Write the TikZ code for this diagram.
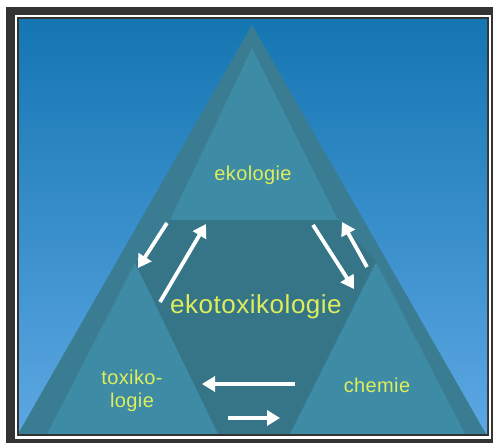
\documentclass[tikz,border=0pt]{standalone}
\usepackage{fontspec}
\setmainfont{Liberation Sans}
\newfontfamily\labfont[LetterSpace=2]{Liberation Sans}
\usetikzlibrary{arrows.meta}
\definecolor{framedark}{HTML}{333333}
\definecolor{bgtop}{HTML}{1576B2}
\definecolor{bgbot}{HTML}{5CA7E3}
\definecolor{band}{HTML}{3A7D93}
\definecolor{innertri}{HTML}{3E8BA6}
\definecolor{middark}{HTML}{357587}
\definecolor{labyellow}{RGB}{222,238,90}
\tikzset{
  lab/.style={text=labyellow, inner sep=0pt, anchor=base},
  biglab/.style={lab, font=\labfont\fontsize{26}{30}\selectfont},
  smalllab/.style={lab, font=\labfont\fontsize{20}{23}\selectfont},
  arr/.style={draw=white, line width=3.8pt, -{Triangle[length=13pt,width=15pt]}}
}
\begin{document}
\begin{tikzpicture}[x=1pt,y=-1pt]
\useasboundingbox (0,0) rectangle (493,443);
% frame
\fill[framedark] (6,7) rectangle (493,443);
\fill[white] (15,15) rectangle (491,439);
\fill[framedark] (17,17) rectangle (489,436);
\shade[top color=bgtop, bottom color=bgbot] (19,20) rectangle (487,434);
\begin{scope}
\clip (19,20) rectangle (487,434);
% outer triangle band
\fill[band] (252,25) -- (18,434) -- (486,434) -- cycle;
% middle region
\fill[middark] (170,220) -- (338,220) -- (376,262) -- (290,434) -- (218,434) -- (135,263) -- cycle;
% inner triangles
\fill[innertri] (252,48) -- (170,220) -- (338,220) -- cycle;
\fill[innertri] (135,263) -- (47,434) -- (218,434) -- cycle;
\fill[innertri] (376,262) -- (290,434) -- (465,434) -- cycle;
\end{scope}
% labels
\node[smalllab] (eko) at (253,181) {ekologie};
\node[biglab] (ekotox) at (256,314) {ekotoxikologie};
\node[smalllab] (tox1) at (132,385) {toxiko-};
\node[smalllab] (tox2) at (132,408) {logie};
\node[smalllab] (chem) at (377,393) {chemie};
% arrows
\coordinate (a1s) at (167,223); \coordinate (a1e) at (138,268);
\coordinate (a2s) at (160,302); \coordinate (a2e) at (206,224);
\coordinate (a3s) at (313,225); \coordinate (a3e) at (354,289);
\coordinate (a4s) at (367,267); \coordinate (a4e) at (342,222);
\coordinate (a5s) at (295,384); \coordinate (a5e) at (202,384);
\coordinate (a6s) at (228,418); \coordinate (a6e) at (280,418);
\draw[arr] (a1s) -- (a1e);
\draw[arr] (a2s) -- (a2e);
\draw[arr] (a3s) -- (a3e);
\draw[arr] (a4s) -- (a4e);
\draw[arr] (a5s) -- (a5e);
\draw[arr] (a6s) -- (a6e);
\end{tikzpicture}
\end{document}
